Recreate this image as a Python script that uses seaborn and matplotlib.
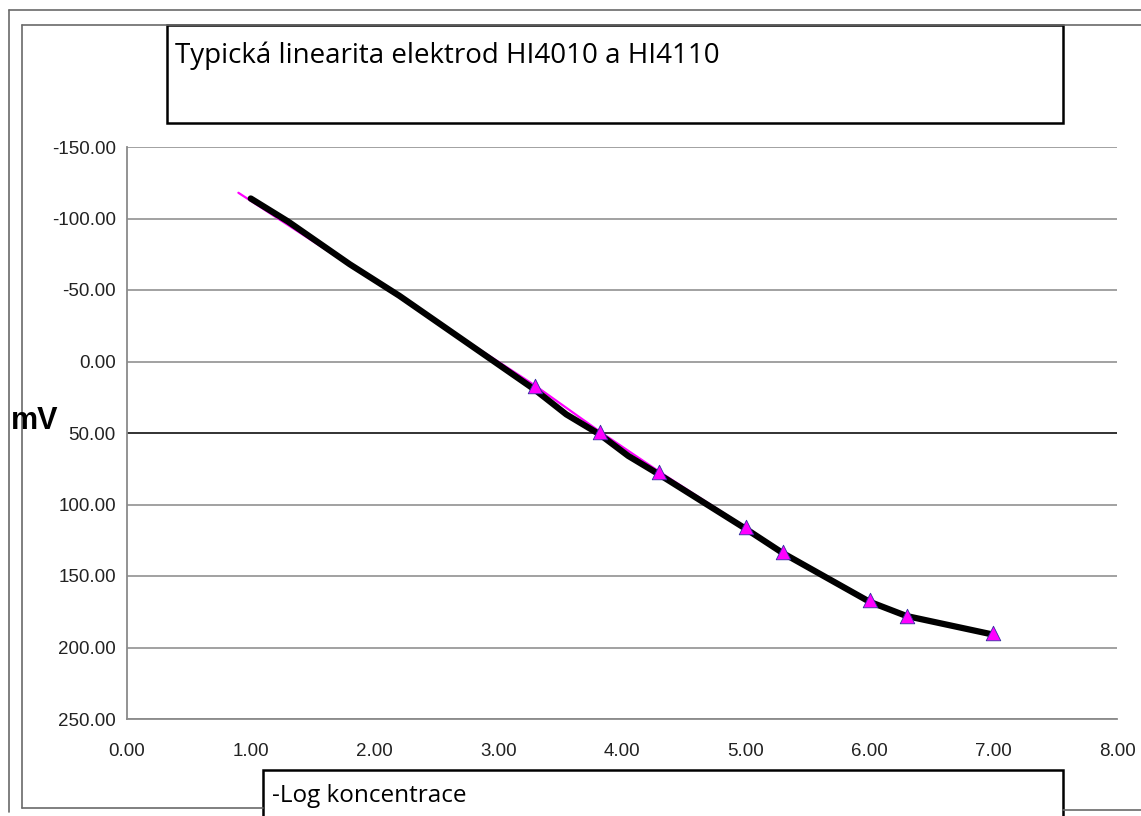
import matplotlib
matplotlib.use("Agg")
import matplotlib.pyplot as plt
import seaborn as sns
import pandas as pd
from matplotlib.lines import Line2D
from matplotlib.patches import Rectangle
from matplotlib.ticker import FuncFormatter

# ---- data ----
measured_x = [1.0, 1.3, 1.5, 1.8, 2.0, 2.2, 2.6, 2.75, 3.0, 3.3, 3.55, 3.82, 4.05, 4.3, 5.0, 5.3, 6.0, 6.15, 6.3, 7.0]
measured_mv = [-114, -98, -86, -68, -57, -46, -22, -13, 2, 20, 37, 51, 66, 79, 117, 134, 168, 173, 178, 191]
points_x = [0.9, 3.3, 3.82, 4.3, 5.0, 5.3, 6.0, 6.3, 7.0]
points_mv = [-118, 17, 49, 77, 116, 133, 167, 178, 190]
x_ticks = [0, 1, 2, 3, 4, 5, 6, 7, 8]
y_ticks = [-150, -100, -50, 0, 50, 100, 150, 200, 250]
title_text = "Typická linearita elektrod HI4010 a HI4110"
xlabel_text = "-Log koncentrace"
ylabel_text = "mV"

sns.set_style("white")
plt.rcParams["font.family"] = ["Liberation Sans", "DejaVu Sans"]
plt.rcParams["axes.unicode_minus"] = False

W, H = 1141, 816
fig = plt.figure(figsize=(W / 100, H / 100), dpi=100)
ax = fig.add_axes([127 / W, 1 - 719 / H, (1117 - 127) / W, (719 - 147) / H])

df_line = pd.DataFrame({"x": measured_x, "mv": measured_mv})
df_pts = pd.DataFrame({"x": points_x, "mv": points_mv})

# magenta connecting line (under the black curve)
sns.lineplot(data=df_pts, x="x", y="mv", ax=ax, color="#ff00ff", linewidth=1.6,
             sort=False, estimator=None, zorder=2)
# black measured curve
sns.lineplot(data=df_line, x="x", y="mv", ax=ax, color="black", linewidth=4.5,
             sort=False, estimator=None, zorder=3)
# magenta triangle markers on top
sns.scatterplot(data=df_pts.iloc[1:], x="x", y="mv", ax=ax, color="#ff00ff", marker="^",
                s=110, edgecolor="#3030a0", linewidth=0.6, zorder=5)

ax.set_xlim(0, 8)
ax.set_ylim(250, -150)
ax.set_xticks(x_ticks)
ax.set_yticks(y_ticks)
fmt = FuncFormatter(lambda v, p: f"{v:.2f}")
ax.xaxis.set_major_formatter(fmt)
ax.yaxis.set_major_formatter(fmt)
ax.tick_params(axis="both", which="major", direction="out", length=5, width=1,
               color="#555555", labelsize=13.5, labelcolor="#222222")
ax.tick_params(axis="y", pad=3)
ax.tick_params(axis="x", pad=12)
ax.set_xlabel("")
ax.set_ylabel("")

# gridlines
for yv in y_ticks:
    col = "#222222" if yv == 50 else "#9a9a9a"
    ax.axhline(yv, color=col, linewidth=1.3, zorder=1)

for s in ["top", "right"]:
    ax.spines[s].set_visible(False)
for s in ["left", "bottom"]:
    ax.spines[s].set_color("#8a8a8a")
    ax.spines[s].set_linewidth(1.3)

# frame lines (figure coords)
def fx(px):
    return px / W

def fy(py):
    return 1 - py / H

gray = "#6a6a6a"
fig.add_artist(Line2D([fx(9), fx(W)], [fy(10), fy(10)], color=gray, lw=1.2))
fig.add_artist(Line2D([fx(9), fx(9)], [fy(10), fy(812)], color=gray, lw=1.2))
fig.add_artist(Line2D([fx(22), fx(W)], [fy(25), fy(25)], color=gray, lw=1.2))
fig.add_artist(Line2D([fx(22), fx(22)], [fy(25), fy(808)], color=gray, lw=1.2))
fig.add_artist(Line2D([fx(22), fx(263)], [fy(808), fy(808)], color=gray, lw=1.2))
fig.add_artist(Line2D([fx(1063), fx(W)], [fy(810), fy(810)], color=gray, lw=1.2))

# title box
fig.add_artist(Rectangle((fx(167), fy(123)), fx(1063) - fx(167), fy(25) - fy(123),
                         fill=True, facecolor="white", edgecolor="black", lw=1.8))
fig.text(fx(175), fy(56), title_text, fontsize=20, family=["Open Sans", "DejaVu Sans"],
         va="center", ha="left", color="black")

# x label box
fig.add_artist(Rectangle((fx(263), fy(830)), fx(1063) - fx(263), fy(770) - fy(830),
                         fill=True, facecolor="white", edgecolor="black", lw=1.8))
fig.text(fx(272), fy(796), xlabel_text, fontsize=17.5, family=["Open Sans", "DejaVu Sans"],
         va="center", ha="left", color="black")

# y label
fig.text(fx(11), fy(421), ylabel_text, fontsize=22, fontweight="bold",
         va="center", ha="left", color="black")

fig.savefig("out.png", dpi=100)
